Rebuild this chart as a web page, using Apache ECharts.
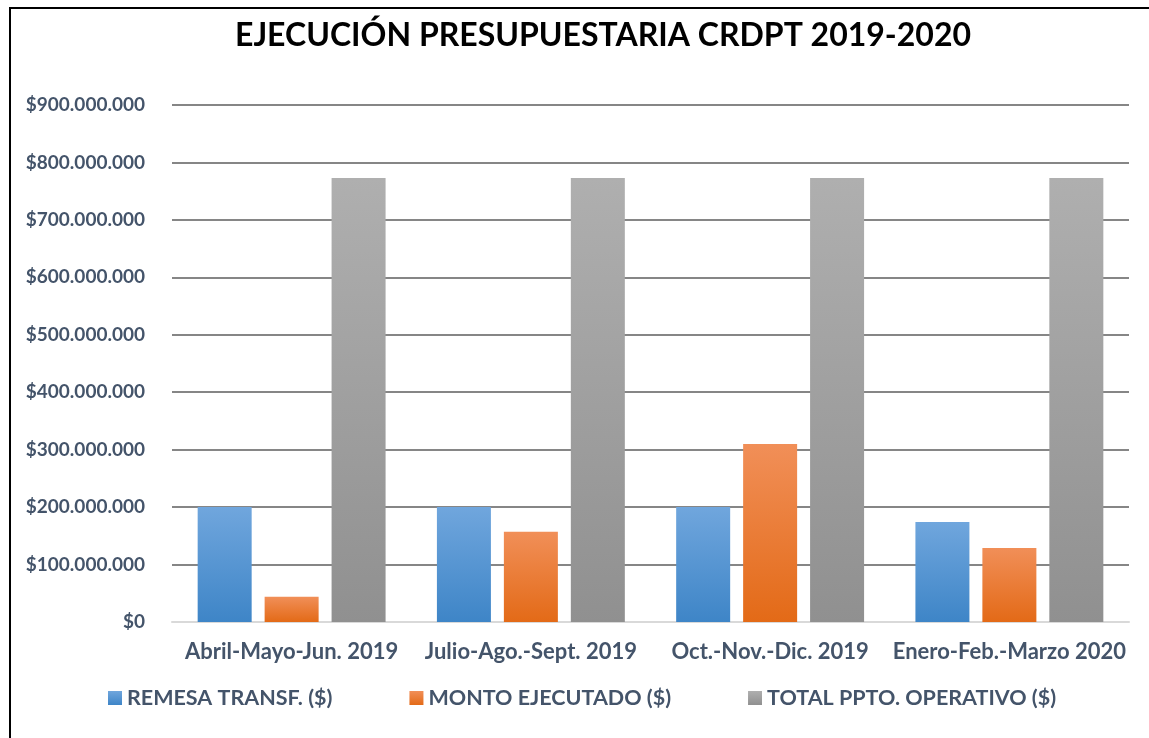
<!DOCTYPE html>
<html>
<head>
<meta charset="utf-8">
<script src="https://cdn.jsdelivr.net/npm/echarts@6/dist/echarts.min.js"></script>
<style>
  html, body { margin: 0; padding: 0; background: #fff; }
  #frame { position: absolute; left: 9px; top: 7px; width: 1200px; height: 800px; border-left: 2px solid #000; border-top: 2px solid #000; }
  #chart { position: absolute; left: 0; top: 0; width: 1149px; height: 738px; }
</style>
</head>
<body>
<div id="frame"></div>
<div id="chart"></div>
<script>
  const categories = ['Abril-Mayo-Jun. 2019', 'Julio-Ago.-Sept. 2019', 'Oct.-Nov.-Dic. 2019', 'Enero-Feb.-Marzo 2020']
  const remesa = [200000000, 200000000, 200000000, 174000000]
  const montoEjecutado = [44000000, 157000000, 310000000, 129000000]
  const totalPpto = [773000000, 773000000, 773000000, 773000000]
  const seriesNames = ['REMESA TRANSF. ($)', 'MONTO EJECUTADO ($)', 'TOTAL PPTO. OPERATIVO ($)']

  const textColor = '#44546a'
  const font = 'Lato, "Open Sans", sans-serif'

  function grad(top, bottom) {
    return new echarts.graphic.LinearGradient(0, 0, 0, 1, [
      { offset: 0, color: top },
      { offset: 1, color: bottom }
    ])
  }

  function money(v) {
    if (v === 0) return '$0'
    return '$' + String(v).replace(/\B(?=(\d{3})+(?!\d))/g, '.')
  }

  const myChart = echarts.init(document.getElementById('chart'), null, { renderer: 'canvas' })
  const option = {
    backgroundColor: 'transparent',
    animation: false,
    title: {
      text: 'EJECUCIÓN PRESUPUESTARIA CRDPT 2019-2020',
      left: 598,
      textAlign: 'center',
      top: 15,
      textStyle: { color: '#000', fontSize: 32, fontWeight: 'bold', fontFamily: font }
    },
    legend: {
      top: 682,
      left: 103,
      itemWidth: 14,
      itemHeight: 14,
      itemGap: 77,
      icon: 'rect',
      textStyle: { color: textColor, fontSize: 21.5, fontWeight: 'bold', fontFamily: font },
      data: seriesNames
    },
    grid: { left: 172, right: 20, top: 105, bottom: 116 },
    xAxis: {
      type: 'category',
      data: categories,
      axisLine: { show: true, lineStyle: { color: '#d9d9d9', width: 2 } },
      axisTick: { show: false },
      axisLabel: { color: textColor, fontSize: 22, fontWeight: 'bold', fontFamily: font, margin: 19, interval: 0 }
    },
    yAxis: {
      type: 'value',
      min: 0,
      max: 900000000,
      interval: 100000000,
      axisLine: { show: false },
      axisTick: { show: false },
      splitLine: { lineStyle: { color: '#868686', width: 2 } },
      axisLabel: { color: textColor, fontSize: 19, fontWeight: 'bold', fontFamily: font, margin: 27, formatter: money }
    },
    series: [
      {
        name: seriesNames[0],
        type: 'bar',
        data: remesa,
        barWidth: 54,
        barGap: '24%',
        barCategoryGap: '21%',
        itemStyle: { color: grad('#70a6dd', '#3e85c7') }
      },
      {
        name: seriesNames[1],
        type: 'bar',
        data: montoEjecutado,
        barWidth: 54,
        barGap: '24%',
        itemStyle: { color: grad('#f18f58', '#e36a17') }
      },
      {
        name: seriesNames[2],
        type: 'bar',
        data: totalPpto,
        barWidth: 54,
        barGap: '24%',
        itemStyle: { color: grad('#afafaf', '#909090') }
      }
    ]
  }
  myChart.setOption(option, true)
</script>
</body>
</html>
